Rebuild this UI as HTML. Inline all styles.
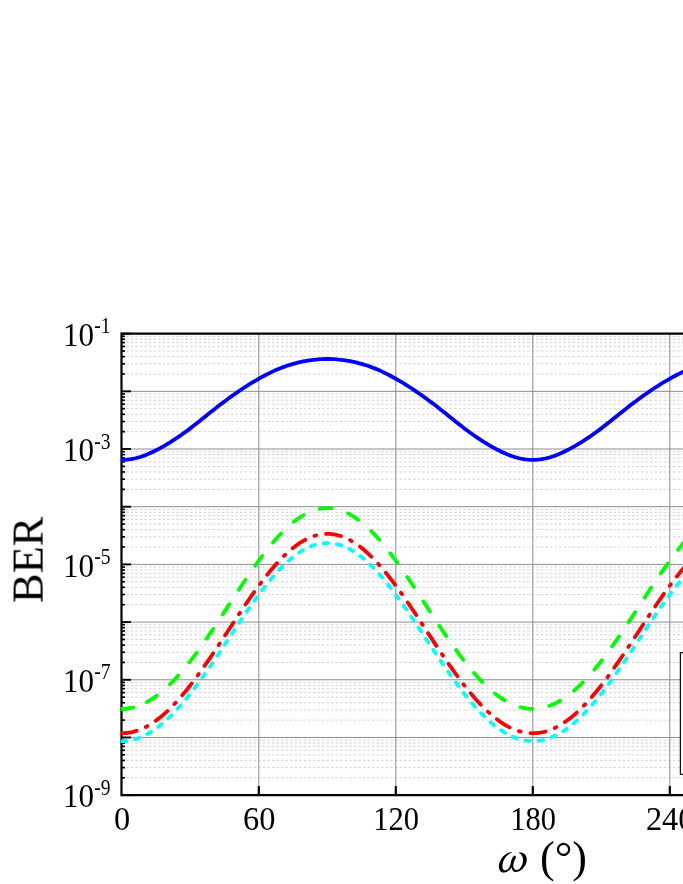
<!DOCTYPE html>
<html><head><meta charset="utf-8"><title>BER versus omega</title>
<style>html,body{margin:0;padding:0;background:#fff;}body{width:683px;height:884px;overflow:hidden;}svg{display:block;}text{font-family:"Liberation Serif",serif;fill:#000;}</style></head><body>
<svg width="683" height="884" viewBox="0 0 683 884">
<rect width="683" height="884" fill="#fff"/>
<g stroke="#d2d2d2" stroke-width="1" stroke-dasharray="2.5 2.056" fill="none">
<path d="M126.10 373.97 H688"/>
<path d="M126.10 363.81 H688"/>
<path d="M126.10 356.61 H688"/>
<path d="M126.10 351.02 H688"/>
<path d="M126.10 346.45 H688"/>
<path d="M126.10 342.59 H688"/>
<path d="M126.10 339.24 H688"/>
<path d="M126.10 336.29 H688"/>
<path d="M126.10 431.66 H688"/>
<path d="M126.10 421.50 H688"/>
<path d="M126.10 414.29 H688"/>
<path d="M126.10 408.70 H688"/>
<path d="M126.10 404.14 H688"/>
<path d="M126.10 400.27 H688"/>
<path d="M126.10 396.93 H688"/>
<path d="M126.10 393.98 H688"/>
<path d="M126.10 489.35 H688"/>
<path d="M126.10 479.19 H688"/>
<path d="M126.10 471.98 H688"/>
<path d="M126.10 466.39 H688"/>
<path d="M126.10 461.82 H688"/>
<path d="M126.10 457.96 H688"/>
<path d="M126.10 454.62 H688"/>
<path d="M126.10 451.66 H688"/>
<path d="M126.10 547.03 H688"/>
<path d="M126.10 536.88 H688"/>
<path d="M126.10 529.67 H688"/>
<path d="M126.10 524.08 H688"/>
<path d="M126.10 519.51 H688"/>
<path d="M126.10 515.65 H688"/>
<path d="M126.10 512.30 H688"/>
<path d="M126.10 509.35 H688"/>
<path d="M126.10 604.72 H688"/>
<path d="M126.10 594.56 H688"/>
<path d="M126.10 587.36 H688"/>
<path d="M126.10 581.77 H688"/>
<path d="M126.10 577.20 H688"/>
<path d="M126.10 573.34 H688"/>
<path d="M126.10 569.99 H688"/>
<path d="M126.10 567.04 H688"/>
<path d="M126.10 662.41 H688"/>
<path d="M126.10 652.25 H688"/>
<path d="M126.10 645.04 H688"/>
<path d="M126.10 639.45 H688"/>
<path d="M126.10 634.89 H688"/>
<path d="M126.10 631.02 H688"/>
<path d="M126.10 627.68 H688"/>
<path d="M126.10 624.73 H688"/>
<path d="M126.10 720.10 H688"/>
<path d="M126.10 709.94 H688"/>
<path d="M126.10 702.73 H688"/>
<path d="M126.10 697.14 H688"/>
<path d="M126.10 692.57 H688"/>
<path d="M126.10 688.71 H688"/>
<path d="M126.10 685.37 H688"/>
<path d="M126.10 682.41 H688"/>
<path d="M126.10 777.78 H688"/>
<path d="M126.10 767.63 H688"/>
<path d="M126.10 760.42 H688"/>
<path d="M126.10 754.83 H688"/>
<path d="M126.10 750.26 H688"/>
<path d="M126.10 746.40 H688"/>
<path d="M126.10 743.05 H688"/>
<path d="M126.10 740.10 H688"/>
</g>
<g stroke="#8c8c8c" stroke-width="1" fill="none">
<path d="M121.80 391.34 H688"/>
<path d="M121.80 449.02 H688"/>
<path d="M121.80 506.71 H688"/>
<path d="M121.80 564.40 H688"/>
<path d="M121.80 622.09 H688"/>
<path d="M121.80 679.77 H688"/>
<path d="M121.80 737.46 H688"/>
<path d="M258.80 333.65 V795.15"/>
<path d="M395.80 333.65 V795.15"/>
<path d="M532.80 333.65 V795.15"/>
<path d="M669.80 333.65 V795.15"/>
</g>
<g stroke="#000" stroke-width="2.2" fill="none">
<path d="M121.50 333.65 H131.00" stroke-width="1.9"/>
<path d="M121.50 391.34 H131.00" stroke-width="1.9"/>
<path d="M121.50 449.02 H131.00" stroke-width="1.9"/>
<path d="M121.50 506.71 H131.00" stroke-width="1.9"/>
<path d="M121.50 564.40 H131.00" stroke-width="1.9"/>
<path d="M121.50 622.09 H131.00" stroke-width="1.9"/>
<path d="M121.50 679.77 H131.00" stroke-width="1.9"/>
<path d="M121.50 737.46 H131.00" stroke-width="1.9"/>
<path d="M121.50 795.15 H131.00" stroke-width="1.9"/>
<path d="M121.50 373.97 H125.00" stroke-width="1.7"/>
<path d="M121.50 363.81 H125.00" stroke-width="1.7"/>
<path d="M121.50 356.61 H125.00" stroke-width="1.7"/>
<path d="M121.50 351.02 H125.00" stroke-width="1.7"/>
<path d="M121.50 346.45 H125.00" stroke-width="1.7"/>
<path d="M121.50 342.59 H125.00" stroke-width="1.7"/>
<path d="M121.50 339.24 H125.00" stroke-width="1.7"/>
<path d="M121.50 336.29 H125.00" stroke-width="1.7"/>
<path d="M121.50 431.66 H125.00" stroke-width="1.7"/>
<path d="M121.50 421.50 H125.00" stroke-width="1.7"/>
<path d="M121.50 414.29 H125.00" stroke-width="1.7"/>
<path d="M121.50 408.70 H125.00" stroke-width="1.7"/>
<path d="M121.50 404.14 H125.00" stroke-width="1.7"/>
<path d="M121.50 400.27 H125.00" stroke-width="1.7"/>
<path d="M121.50 396.93 H125.00" stroke-width="1.7"/>
<path d="M121.50 393.98 H125.00" stroke-width="1.7"/>
<path d="M121.50 489.35 H125.00" stroke-width="1.7"/>
<path d="M121.50 479.19 H125.00" stroke-width="1.7"/>
<path d="M121.50 471.98 H125.00" stroke-width="1.7"/>
<path d="M121.50 466.39 H125.00" stroke-width="1.7"/>
<path d="M121.50 461.82 H125.00" stroke-width="1.7"/>
<path d="M121.50 457.96 H125.00" stroke-width="1.7"/>
<path d="M121.50 454.62 H125.00" stroke-width="1.7"/>
<path d="M121.50 451.66 H125.00" stroke-width="1.7"/>
<path d="M121.50 547.03 H125.00" stroke-width="1.7"/>
<path d="M121.50 536.88 H125.00" stroke-width="1.7"/>
<path d="M121.50 529.67 H125.00" stroke-width="1.7"/>
<path d="M121.50 524.08 H125.00" stroke-width="1.7"/>
<path d="M121.50 519.51 H125.00" stroke-width="1.7"/>
<path d="M121.50 515.65 H125.00" stroke-width="1.7"/>
<path d="M121.50 512.30 H125.00" stroke-width="1.7"/>
<path d="M121.50 509.35 H125.00" stroke-width="1.7"/>
<path d="M121.50 604.72 H125.00" stroke-width="1.7"/>
<path d="M121.50 594.56 H125.00" stroke-width="1.7"/>
<path d="M121.50 587.36 H125.00" stroke-width="1.7"/>
<path d="M121.50 581.77 H125.00" stroke-width="1.7"/>
<path d="M121.50 577.20 H125.00" stroke-width="1.7"/>
<path d="M121.50 573.34 H125.00" stroke-width="1.7"/>
<path d="M121.50 569.99 H125.00" stroke-width="1.7"/>
<path d="M121.50 567.04 H125.00" stroke-width="1.7"/>
<path d="M121.50 662.41 H125.00" stroke-width="1.7"/>
<path d="M121.50 652.25 H125.00" stroke-width="1.7"/>
<path d="M121.50 645.04 H125.00" stroke-width="1.7"/>
<path d="M121.50 639.45 H125.00" stroke-width="1.7"/>
<path d="M121.50 634.89 H125.00" stroke-width="1.7"/>
<path d="M121.50 631.02 H125.00" stroke-width="1.7"/>
<path d="M121.50 627.68 H125.00" stroke-width="1.7"/>
<path d="M121.50 624.73 H125.00" stroke-width="1.7"/>
<path d="M121.50 720.10 H125.00" stroke-width="1.7"/>
<path d="M121.50 709.94 H125.00" stroke-width="1.7"/>
<path d="M121.50 702.73 H125.00" stroke-width="1.7"/>
<path d="M121.50 697.14 H125.00" stroke-width="1.7"/>
<path d="M121.50 692.57 H125.00" stroke-width="1.7"/>
<path d="M121.50 688.71 H125.00" stroke-width="1.7"/>
<path d="M121.50 685.37 H125.00" stroke-width="1.7"/>
<path d="M121.50 682.41 H125.00" stroke-width="1.7"/>
<path d="M121.50 777.78 H125.00" stroke-width="1.7"/>
<path d="M121.50 767.63 H125.00" stroke-width="1.7"/>
<path d="M121.50 760.42 H125.00" stroke-width="1.7"/>
<path d="M121.50 754.83 H125.00" stroke-width="1.7"/>
<path d="M121.50 750.26 H125.00" stroke-width="1.7"/>
<path d="M121.50 746.40 H125.00" stroke-width="1.7"/>
<path d="M121.50 743.05 H125.00" stroke-width="1.7"/>
<path d="M121.50 740.10 H125.00" stroke-width="1.7"/>
<path d="M258.80 795.15 v-9"/>
<path d="M395.80 795.15 v-9"/>
<path d="M532.80 795.15 v-9"/>
<path d="M669.80 795.15 v-9"/>
</g>
<g stroke="#000" stroke-width="2.2" fill="none" stroke-linejoin="miter">
<path d="M688 333.65 H121.50 V795.15 H688"/>
</g>
<clipPath id="c"><rect x="120.90" y="333.65" width="688" height="461.50"/></clipPath>
<g clip-path="url(#c)" fill="none" stroke-width="3.80" stroke-linecap="round" stroke-linejoin="round">
<path d="M121.80 459.90 L124.08 459.85 L126.37 459.71 L128.65 459.48 L130.93 459.16 L133.22 458.74 L135.50 458.24 L137.78 457.66 L140.07 456.99 L142.35 456.24 L144.63 455.41 L146.92 454.51 L149.20 453.55 L151.48 452.52 L153.77 451.43 L156.05 450.29 L158.33 449.10 L160.62 447.87 L162.90 446.59 L165.18 445.28 L167.47 443.92 L169.75 442.53 L172.03 441.09 L174.32 439.63 L176.60 438.13 L178.88 436.59 L181.17 435.02 L183.45 433.42 L185.73 431.77 L188.02 430.10 L190.30 428.38 L192.58 426.62 L194.87 424.84 L197.15 423.02 L199.43 421.19 L201.72 419.35 L204.00 417.51 L206.28 415.66 L208.57 413.83 L210.85 412.00 L213.13 410.19 L215.42 408.39 L217.70 406.61 L219.98 404.85 L222.27 403.12 L224.55 401.41 L226.83 399.72 L229.12 398.06 L231.40 396.41 L233.68 394.79 L235.97 393.19 L238.25 391.61 L240.53 390.05 L242.82 388.52 L245.10 387.02 L247.38 385.55 L249.67 384.12 L251.95 382.72 L254.23 381.36 L256.52 380.03 L258.80 378.73 L261.08 377.46 L263.37 376.22 L265.65 375.01 L267.93 373.84 L270.22 372.71 L272.50 371.62 L274.78 370.58 L277.07 369.58 L279.35 368.63 L281.63 367.73 L283.92 366.87 L286.20 366.07 L288.48 365.31 L290.77 364.59 L293.05 363.92 L295.33 363.30 L297.62 362.71 L299.90 362.18 L302.18 361.68 L304.47 361.23 L306.75 360.81 L309.03 360.44 L311.32 360.12 L313.60 359.83 L315.88 359.58 L318.17 359.38 L320.45 359.21 L322.73 359.10 L325.02 359.02 L327.30 359.00 L329.58 359.02 L331.87 359.10 L334.15 359.21 L336.43 359.38 L338.72 359.58 L341.00 359.83 L343.28 360.12 L345.57 360.44 L347.85 360.81 L350.13 361.23 L352.42 361.68 L354.70 362.18 L356.98 362.71 L359.27 363.30 L361.55 363.92 L363.83 364.59 L366.12 365.31 L368.40 366.07 L370.68 366.87 L372.97 367.73 L375.25 368.63 L377.53 369.58 L379.82 370.58 L382.10 371.62 L384.38 372.71 L386.67 373.84 L388.95 375.01 L391.23 376.22 L393.52 377.46 L395.80 378.73 L398.08 380.03 L400.37 381.36 L402.65 382.72 L404.93 384.12 L407.22 385.55 L409.50 387.02 L411.78 388.52 L414.07 390.05 L416.35 391.61 L418.63 393.19 L420.92 394.79 L423.20 396.41 L425.48 398.06 L427.77 399.72 L430.05 401.41 L432.33 403.12 L434.62 404.85 L436.90 406.61 L439.18 408.39 L441.47 410.19 L443.75 412.00 L446.03 413.83 L448.32 415.66 L450.60 417.51 L452.88 419.35 L455.17 421.19 L457.45 423.02 L459.73 424.84 L462.02 426.62 L464.30 428.38 L466.58 430.10 L468.87 431.77 L471.15 433.42 L473.43 435.02 L475.72 436.59 L478.00 438.13 L480.28 439.63 L482.57 441.09 L484.85 442.53 L487.13 443.92 L489.42 445.28 L491.70 446.59 L493.98 447.87 L496.27 449.10 L498.55 450.29 L500.83 451.43 L503.12 452.52 L505.40 453.55 L507.68 454.51 L509.97 455.41 L512.25 456.24 L514.53 456.99 L516.82 457.66 L519.10 458.24 L521.38 458.74 L523.67 459.16 L525.95 459.48 L528.23 459.71 L530.52 459.85 L532.80 459.90 L535.08 459.85 L537.37 459.71 L539.65 459.48 L541.93 459.16 L544.22 458.74 L546.50 458.24 L548.78 457.66 L551.07 456.99 L553.35 456.24 L555.63 455.41 L557.92 454.51 L560.20 453.55 L562.48 452.52 L564.77 451.43 L567.05 450.29 L569.33 449.10 L571.62 447.87 L573.90 446.59 L576.18 445.28 L578.47 443.92 L580.75 442.53 L583.03 441.09 L585.32 439.63 L587.60 438.13 L589.88 436.59 L592.17 435.02 L594.45 433.42 L596.73 431.77 L599.02 430.10 L601.30 428.38 L603.58 426.62 L605.87 424.84 L608.15 423.02 L610.43 421.19 L612.72 419.35 L615.00 417.51 L617.28 415.66 L619.57 413.83 L621.85 412.00 L624.13 410.19 L626.42 408.39 L628.70 406.61 L630.98 404.85 L633.27 403.12 L635.55 401.41 L637.83 399.72 L640.12 398.06 L642.40 396.41 L644.68 394.79 L646.97 393.19 L649.25 391.61 L651.53 390.05 L653.82 388.52 L656.10 387.02 L658.38 385.55 L660.67 384.12 L662.95 382.72 L665.23 381.36 L667.52 380.03 L669.80 378.73 L672.08 377.46 L674.37 376.22 L676.65 375.01 L678.93 373.84 L681.22 372.71 L683.50 371.62 L685.78 370.58 L688.07 369.58 L690.35 368.63 L692.63 367.73 L694.92 366.87 L697.20 366.07" stroke="#0000ff"/>
<path d="M121.80 708.89 L124.08 708.83 L126.37 708.66 L128.65 708.37 L130.93 707.97 L133.22 707.46 L135.50 706.83 L137.78 706.09 L140.07 705.24 L142.35 704.28 L144.63 703.20 L146.92 702.02 L149.20 700.73 L151.48 699.33 L153.77 697.83 L156.05 696.23 L158.33 694.52 L160.62 692.71 L162.90 690.80 L165.18 688.80 L167.47 686.70 L169.75 684.51 L172.03 682.23 L174.32 679.86 L176.60 677.41 L178.88 674.87 L181.17 672.26 L183.45 669.56 L185.73 666.80 L188.02 663.96 L190.30 661.05 L192.58 658.08 L194.87 655.05 L197.15 651.96 L199.43 648.81 L201.72 645.61 L204.00 642.37 L206.28 639.08 L208.57 635.75 L210.85 632.38 L213.13 628.98 L215.42 625.56 L217.70 622.10 L219.98 618.63 L222.27 615.14 L224.55 611.65 L226.83 608.14 L229.12 604.63 L231.40 601.12 L233.68 597.61 L235.97 594.12 L238.25 590.64 L240.53 587.18 L242.82 583.74 L245.10 580.32 L247.38 576.94 L249.67 573.60 L251.95 570.30 L254.23 567.04 L256.52 563.83 L258.80 560.67 L261.08 557.57 L263.37 554.53 L265.65 551.56 L267.93 548.65 L270.22 545.82 L272.50 543.07 L274.78 540.40 L277.07 537.81 L279.35 535.31 L281.63 532.90 L283.92 530.59 L286.20 528.38 L288.48 526.26 L290.77 524.26 L293.05 522.35 L295.33 520.56 L297.62 518.88 L299.90 517.32 L302.18 515.87 L304.47 514.54 L306.75 513.33 L309.03 512.25 L311.32 511.29 L313.60 510.45 L315.88 509.74 L318.17 509.16 L320.45 508.70 L322.73 508.38 L325.02 508.18 L327.30 508.12 L329.58 508.18 L331.87 508.38 L334.15 508.70 L336.43 509.16 L338.72 509.74 L341.00 510.45 L343.28 511.29 L345.57 512.25 L347.85 513.33 L350.13 514.54 L352.42 515.87 L354.70 517.32 L356.98 518.88 L359.27 520.56 L361.55 522.35 L363.83 524.26 L366.12 526.26 L368.40 528.38 L370.68 530.59 L372.97 532.90 L375.25 535.31 L377.53 537.81 L379.82 540.40 L382.10 543.07 L384.38 545.82 L386.67 548.65 L388.95 551.56 L391.23 554.53 L393.52 557.57 L395.80 560.67 L398.08 563.83 L400.37 567.04 L402.65 570.30 L404.93 573.60 L407.22 576.94 L409.50 580.32 L411.78 583.74 L414.07 587.18 L416.35 590.64 L418.63 594.12 L420.92 597.61 L423.20 601.12 L425.48 604.63 L427.77 608.14 L430.05 611.64 L432.33 615.14 L434.62 618.63 L436.90 622.10 L439.18 625.56 L441.47 628.98 L443.75 632.38 L446.03 635.75 L448.32 639.08 L450.60 642.37 L452.88 645.61 L455.17 648.81 L457.45 651.96 L459.73 655.05 L462.02 658.08 L464.30 661.05 L466.58 663.96 L468.87 666.80 L471.15 669.56 L473.43 672.26 L475.72 674.87 L478.00 677.41 L480.28 679.86 L482.57 682.23 L484.85 684.51 L487.13 686.70 L489.42 688.80 L491.70 690.80 L493.98 692.71 L496.27 694.52 L498.55 696.23 L500.83 697.83 L503.12 699.33 L505.40 700.73 L507.68 702.02 L509.97 703.20 L512.25 704.28 L514.53 705.24 L516.82 706.09 L519.10 706.83 L521.38 707.46 L523.67 707.97 L525.95 708.37 L528.23 708.66 L530.52 708.83 L532.80 708.89 L535.08 708.83 L537.37 708.66 L539.65 708.37 L541.93 707.97 L544.22 707.46 L546.50 706.83 L548.78 706.09 L551.07 705.24 L553.35 704.28 L555.63 703.20 L557.92 702.02 L560.20 700.73 L562.48 699.33 L564.77 697.83 L567.05 696.23 L569.33 694.52 L571.62 692.71 L573.90 690.80 L576.18 688.80 L578.47 686.70 L580.75 684.51 L583.03 682.23 L585.32 679.86 L587.60 677.41 L589.88 674.87 L592.17 672.26 L594.45 669.56 L596.73 666.80 L599.02 663.96 L601.30 661.05 L603.58 658.08 L605.87 655.05 L608.15 651.96 L610.43 648.81 L612.72 645.61 L615.00 642.37 L617.28 639.08 L619.57 635.75 L621.85 632.38 L624.13 628.98 L626.42 625.56 L628.70 622.10 L630.98 618.63 L633.27 615.14 L635.55 611.65 L637.83 608.14 L640.12 604.63 L642.40 601.12 L644.68 597.61 L646.97 594.12 L649.25 590.64 L651.53 587.18 L653.82 583.74 L656.10 580.32 L658.38 576.94 L660.67 573.60 L662.95 570.30 L665.23 567.04 L667.52 563.83 L669.80 560.67 L672.08 557.57 L674.37 554.53 L676.65 551.56 L678.93 548.65 L681.22 545.82 L683.50 543.07 L685.78 540.40 L688.07 537.81 L690.35 535.31 L692.63 532.90 L694.92 530.59 L697.20 528.38" stroke="#00ff00" stroke-dasharray="12.0 17.26" stroke-dashoffset="3.0"/>
<path d="M121.80 708.89 L122.37 708.89 L122.94 708.88 L123.51 708.86 L124.08 708.83 L124.65 708.80 L125.22 708.76 L125.80 708.71 L126.37 708.66 L126.94 708.60 L127.51 708.53 L128.08 708.46 L128.65 708.37 L129.22 708.28 L129.79 708.19 L130.36 708.08 L130.93 707.97 L131.50 707.86 L132.07 707.73 L132.65 707.60 L133.22 707.46" stroke="#00ff00"/>
<path d="M121.80 733.24 L124.08 733.18 L126.37 733.01 L128.65 732.72 L130.93 732.32 L133.22 731.80 L135.50 731.17 L137.78 730.43 L140.07 729.58 L142.35 728.61 L144.63 727.53 L146.92 726.35 L149.20 725.05 L151.48 723.65 L153.77 722.15 L156.05 720.54 L158.33 718.82 L160.62 717.01 L162.90 715.10 L165.18 713.10 L167.47 710.99 L169.75 708.80 L172.03 706.52 L174.32 704.15 L176.60 701.70 L178.88 699.16 L181.17 696.55 L183.45 693.85 L185.73 691.09 L188.02 688.25 L190.30 685.35 L192.58 682.39 L194.87 679.36 L197.15 676.28 L199.43 673.14 L201.72 669.95 L204.00 666.72 L206.28 663.44 L208.57 660.13 L210.85 656.78 L213.13 653.39 L215.42 649.99 L217.70 646.56 L219.98 643.11 L222.27 639.64 L224.55 636.16 L226.83 632.68 L229.12 629.20 L231.40 625.72 L233.68 622.24 L235.97 618.78 L238.25 615.33 L240.53 611.90 L242.82 608.49 L245.10 605.12 L247.38 601.77 L249.67 598.46 L251.95 595.19 L254.23 591.97 L256.52 588.80 L258.80 585.68 L261.08 582.62 L263.37 579.61 L265.65 576.68 L267.93 573.81 L270.22 571.02 L272.50 568.31 L274.78 565.67 L277.07 563.12 L279.35 560.66 L281.63 558.28 L283.92 556.01 L286.20 553.82 L288.48 551.74 L290.77 549.77 L293.05 547.89 L295.33 546.13 L297.62 544.48 L299.90 542.94 L302.18 541.51 L304.47 540.21 L306.75 539.02 L309.03 537.95 L311.32 537.00 L313.60 536.18 L315.88 535.48 L318.17 534.91 L320.45 534.46 L322.73 534.15 L325.02 533.95 L327.30 533.89 L329.58 533.95 L331.87 534.15 L334.15 534.46 L336.43 534.91 L338.72 535.48 L341.00 536.18 L343.28 537.00 L345.57 537.95 L347.85 539.02 L350.13 540.21 L352.42 541.51 L354.70 542.94 L356.98 544.48 L359.27 546.13 L361.55 547.89 L363.83 549.77 L366.12 551.74 L368.40 553.82 L370.68 556.01 L372.97 558.28 L375.25 560.66 L377.53 563.12 L379.82 565.67 L382.10 568.31 L384.38 571.02 L386.67 573.81 L388.95 576.68 L391.23 579.61 L393.52 582.62 L395.80 585.68 L398.08 588.80 L400.37 591.97 L402.65 595.19 L404.93 598.46 L407.22 601.77 L409.50 605.12 L411.78 608.49 L414.07 611.90 L416.35 615.33 L418.63 618.78 L420.92 622.24 L423.20 625.72 L425.48 629.20 L427.77 632.68 L430.05 636.16 L432.33 639.64 L434.62 643.11 L436.90 646.56 L439.18 649.99 L441.47 653.39 L443.75 656.78 L446.03 660.13 L448.32 663.44 L450.60 666.72 L452.88 669.95 L455.17 673.14 L457.45 676.28 L459.73 679.36 L462.02 682.39 L464.30 685.35 L466.58 688.25 L468.87 691.09 L471.15 693.85 L473.43 696.55 L475.72 699.16 L478.00 701.70 L480.28 704.15 L482.57 706.52 L484.85 708.80 L487.13 710.99 L489.42 713.10 L491.70 715.10 L493.98 717.01 L496.27 718.82 L498.55 720.54 L500.83 722.15 L503.12 723.65 L505.40 725.05 L507.68 726.35 L509.97 727.53 L512.25 728.61 L514.53 729.58 L516.82 730.43 L519.10 731.17 L521.38 731.80 L523.67 732.32 L525.95 732.72 L528.23 733.01 L530.52 733.18 L532.80 733.24 L535.08 733.18 L537.37 733.01 L539.65 732.72 L541.93 732.32 L544.22 731.80 L546.50 731.17 L548.78 730.43 L551.07 729.58 L553.35 728.61 L555.63 727.53 L557.92 726.35 L560.20 725.05 L562.48 723.65 L564.77 722.15 L567.05 720.54 L569.33 718.82 L571.62 717.01 L573.90 715.10 L576.18 713.10 L578.47 710.99 L580.75 708.80 L583.03 706.52 L585.32 704.15 L587.60 701.70 L589.88 699.16 L592.17 696.55 L594.45 693.85 L596.73 691.09 L599.02 688.25 L601.30 685.35 L603.58 682.39 L605.87 679.36 L608.15 676.28 L610.43 673.14 L612.72 669.95 L615.00 666.72 L617.28 663.44 L619.57 660.13 L621.85 656.78 L624.13 653.39 L626.42 649.99 L628.70 646.56 L630.98 643.11 L633.27 639.64 L635.55 636.17 L637.83 632.68 L640.12 629.20 L642.40 625.72 L644.68 622.24 L646.97 618.78 L649.25 615.33 L651.53 611.90 L653.82 608.49 L656.10 605.12 L658.38 601.77 L660.67 598.46 L662.95 595.19 L665.23 591.97 L667.52 588.80 L669.80 585.68 L672.08 582.62 L674.37 579.61 L676.65 576.68 L678.93 573.81 L681.22 571.02 L683.50 568.31 L685.78 565.67 L688.07 563.12 L690.35 560.66 L692.63 558.28 L694.92 556.01 L697.20 553.82" stroke="#ff0000" stroke-dasharray="15.2 9.945 1.8 9.945" stroke-dashoffset="0.15"/>
<path d="M121.80 741.13 L124.08 741.07 L126.37 740.90 L128.65 740.62 L130.93 740.22 L133.22 739.71 L135.50 739.09 L137.78 738.35 L140.07 737.50 L142.35 736.55 L144.63 735.48 L146.92 734.31 L149.20 733.03 L151.48 731.64 L153.77 730.15 L156.05 728.56 L158.33 726.86 L160.62 725.07 L162.90 723.18 L165.18 721.19 L167.47 719.11 L169.75 716.94 L172.03 714.67 L174.32 712.33 L176.60 709.90 L178.88 707.38 L181.17 704.79 L183.45 702.12 L185.73 699.38 L188.02 696.57 L190.30 693.70 L192.58 690.75 L194.87 687.75 L197.15 684.69 L199.43 681.58 L201.72 678.42 L204.00 675.21 L206.28 671.96 L208.57 668.67 L210.85 665.34 L213.13 661.98 L215.42 658.60 L217.70 655.19 L219.98 651.77 L222.27 648.32 L224.55 644.87 L226.83 641.41 L229.12 637.95 L231.40 634.49 L233.68 631.03 L235.97 627.59 L238.25 624.16 L240.53 620.75 L242.82 617.36 L245.10 614.00 L247.38 610.67 L249.67 607.38 L251.95 604.13 L254.23 600.92 L256.52 597.76 L258.80 594.66 L261.08 591.61 L263.37 588.62 L265.65 585.70 L267.93 582.84 L270.22 580.06 L272.50 577.35 L274.78 574.73 L277.07 572.19 L279.35 569.73 L281.63 567.37 L283.92 565.10 L286.20 562.93 L288.48 560.85 L290.77 558.88 L293.05 557.01 L295.33 555.26 L297.62 553.61 L299.90 552.07 L302.18 550.65 L304.47 549.35 L306.75 548.16 L309.03 547.10 L311.32 546.15 L313.60 545.33 L315.88 544.64 L318.17 544.07 L320.45 543.62 L322.73 543.30 L325.02 543.11 L327.30 543.05 L329.58 543.11 L331.87 543.30 L334.15 543.62 L336.43 544.07 L338.72 544.64 L341.00 545.33 L343.28 546.15 L345.57 547.10 L347.85 548.16 L350.13 549.35 L352.42 550.65 L354.70 552.07 L356.98 553.61 L359.27 555.26 L361.55 557.01 L363.83 558.88 L366.12 560.85 L368.40 562.93 L370.68 565.10 L372.97 567.37 L375.25 569.73 L377.53 572.19 L379.82 574.73 L382.10 577.35 L384.38 580.06 L386.67 582.84 L388.95 585.70 L391.23 588.62 L393.52 591.61 L395.80 594.65 L398.08 597.76 L400.37 600.92 L402.65 604.13 L404.93 607.38 L407.22 610.67 L409.50 614.00 L411.78 617.36 L414.07 620.75 L416.35 624.16 L418.63 627.59 L420.92 631.03 L423.20 634.49 L425.48 637.95 L427.77 641.41 L430.05 644.87 L432.33 648.32 L434.62 651.77 L436.90 655.19 L439.18 658.60 L441.47 661.98 L443.75 665.34 L446.03 668.67 L448.32 671.96 L450.60 675.21 L452.88 678.42 L455.17 681.58 L457.45 684.69 L459.73 687.75 L462.02 690.75 L464.30 693.70 L466.58 696.57 L468.87 699.38 L471.15 702.12 L473.43 704.79 L475.72 707.38 L478.00 709.90 L480.28 712.33 L482.57 714.67 L484.85 716.94 L487.13 719.11 L489.42 721.19 L491.70 723.18 L493.98 725.07 L496.27 726.86 L498.55 728.56 L500.83 730.15 L503.12 731.64 L505.40 733.03 L507.68 734.31 L509.97 735.48 L512.25 736.55 L514.53 737.50 L516.82 738.35 L519.10 739.09 L521.38 739.71 L523.67 740.22 L525.95 740.62 L528.23 740.90 L530.52 741.07 L532.80 741.13 L535.08 741.07 L537.37 740.90 L539.65 740.62 L541.93 740.22 L544.22 739.71 L546.50 739.09 L548.78 738.35 L551.07 737.50 L553.35 736.55 L555.63 735.48 L557.92 734.31 L560.20 733.03 L562.48 731.64 L564.77 730.15 L567.05 728.56 L569.33 726.86 L571.62 725.07 L573.90 723.18 L576.18 721.19 L578.47 719.11 L580.75 716.94 L583.03 714.67 L585.32 712.33 L587.60 709.90 L589.88 707.38 L592.17 704.79 L594.45 702.12 L596.73 699.38 L599.02 696.57 L601.30 693.70 L603.58 690.75 L605.87 687.75 L608.15 684.69 L610.43 681.58 L612.72 678.42 L615.00 675.21 L617.28 671.96 L619.57 668.67 L621.85 665.34 L624.13 661.98 L626.42 658.60 L628.70 655.19 L630.98 651.77 L633.27 648.32 L635.55 644.87 L637.83 641.41 L640.12 637.95 L642.40 634.49 L644.68 631.03 L646.97 627.59 L649.25 624.16 L651.53 620.75 L653.82 617.36 L656.10 614.00 L658.38 610.67 L660.67 607.38 L662.95 604.13 L665.23 600.92 L667.52 597.76 L669.80 594.66 L672.08 591.61 L674.37 588.62 L676.65 585.70 L678.93 582.84 L681.22 580.06 L683.50 577.35 L685.78 574.73 L688.07 572.19 L690.35 569.73 L692.63 567.37 L694.92 565.10 L697.20 562.93" stroke="#00ffff" stroke-dasharray="4.4 8.85" stroke-dashoffset="-0.2"/>
</g>
<path d="M688 652.5 H680.4 V774.4 H688" stroke="#111" stroke-width="1.25" fill="#fff"/>
<g opacity="0.999">
<text transform="translate(62.9 345.95) scale(0.934 1)" font-size="33.3">10</text>
<text transform="translate(94.3 333.25) scale(0.85 1)" font-size="23">-1</text>
<text transform="translate(62.9 461.32) scale(0.934 1)" font-size="33.3">10</text>
<text transform="translate(94.3 448.62) scale(0.85 1)" font-size="23">-3</text>
<text transform="translate(62.9 576.70) scale(0.934 1)" font-size="33.3">10</text>
<text transform="translate(94.3 564.00) scale(0.85 1)" font-size="23">-5</text>
<text transform="translate(62.9 692.07) scale(0.934 1)" font-size="33.3">10</text>
<text transform="translate(94.3 679.38) scale(0.85 1)" font-size="23">-7</text>
<text transform="translate(62.9 807.45) scale(0.934 1)" font-size="33.3">10</text>
<text transform="translate(94.3 794.75) scale(0.85 1)" font-size="23">-9</text>
<text transform="translate(122.20 829.6) scale(0.973 1)" font-size="33.3" text-anchor="middle">0</text>
<text transform="translate(259.20 829.6) scale(0.973 1)" font-size="33.3" text-anchor="middle">60</text>
<text transform="translate(396.20 829.6) scale(0.918 1)" font-size="33.3" text-anchor="middle">120</text>
<text transform="translate(533.20 829.6) scale(0.915 1)" font-size="33.3" text-anchor="middle">180</text>
<text transform="translate(670.20 829.6) scale(0.973 1)" font-size="33.3" text-anchor="middle">240</text>
<text transform="translate(42.6 559.8) rotate(-90)" font-size="44.4" text-anchor="middle">BER</text>
<path transform="translate(492 845) scale(0.06442)" d="M305 108C250 112 185 150 145 215C110 270 95 335 115 385C130 420 165 432 195 428C240 422 280 390 305 345C305 385 325 418 370 420C430 420 490 370 525 300C550 245 545 180 510 145C490 125 455 112 425 112L420 125C455 140 478 175 482 225C486 280 460 340 425 372C400 392 365 395 345 370C330 350 328 320 335 285C345 245 365 215 372 190C375 170 360 160 345 168C320 178 298 235 289 290C280 335 252 380 220 392C190 400 165 380 162 345C158 290 180 225 220 180C245 150 275 130 305 120Z" fill="#000"/>
<text x="540.00" y="872" font-size="44">(°)</text>
</g>
</svg></body></html>
